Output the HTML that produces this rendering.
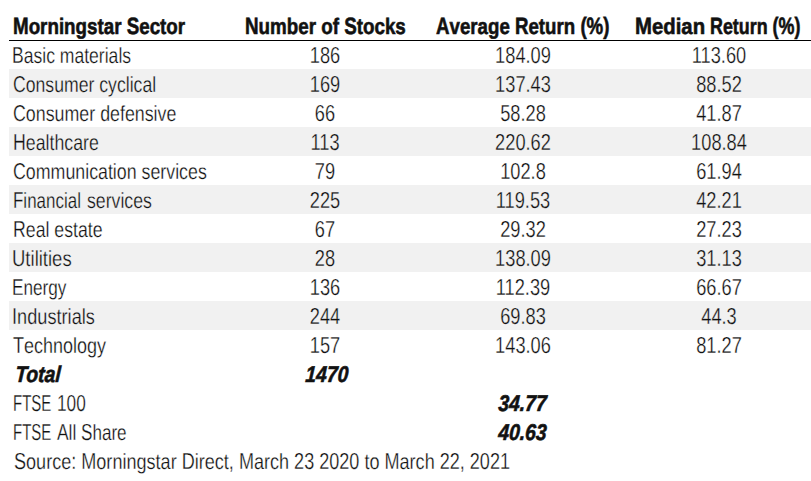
<!DOCTYPE html>
<html><head><meta charset="utf-8"><style>
html,body{margin:0;padding:0;background:#fff;}
body{width:811px;height:481px;position:relative;overflow:hidden;text-rendering:geometricPrecision;}
.t{position:absolute;white-space:nowrap;font-family:"Liberation Sans",sans-serif;line-height:30px;color:#111;transform-origin:0 0;}
.n{position:absolute;width:120px;text-align:center;white-space:nowrap;font-family:"Liberation Sans",sans-serif;font-size:23.1px;line-height:30px;color:#111;transform:scaleX(0.79);transform-origin:60px 0;-webkit-text-stroke:0.3px #fff;}
.n.g{-webkit-text-stroke:0.3px #f1f1f1;}
.lc{display:inline-block;white-space:pre;}
.band{position:absolute;left:9px;width:802px;height:29px;background:#f1f1f1;}
.rule{position:absolute;left:9px;width:802px;top:40px;height:1px;background:#000;}
</style></head><body>
<div class="band" style="top:69px"></div><div class="band" style="top:127px"></div><div class="band" style="top:185px"></div><div class="band" style="top:243px"></div><div class="band" style="top:301px"></div>
<div class="rule"></div>
<div class="t" style="left:12.80px;top:12.00px;font-size:23.6px;font-weight:700;font-style:normal;transform:scaleX(0.7958);transform-origin:0 22px;-webkit-text-stroke:0.6px #111;">M<span class="lc" style="transform:scaleY(0.95);transform-origin:0 22px">orningstar</span> S<span class="lc" style="transform:scaleY(0.95);transform-origin:0 22px">ector</span></div>
<div class="t" style="left:244.50px;top:12.00px;font-size:23.6px;font-weight:700;font-style:normal;transform:scaleX(0.7965);transform-origin:0 22px;-webkit-text-stroke:0.6px #111;">N<span class="lc" style="transform:scaleY(0.95);transform-origin:0 22px">umber of</span> S<span class="lc" style="transform:scaleY(0.95);transform-origin:0 22px">tocks</span></div>
<div class="t" style="left:436.00px;top:12.00px;font-size:23.6px;font-weight:700;font-style:normal;transform:scaleX(0.7922);transform-origin:0 22px;-webkit-text-stroke:0.6px #111;">A<span class="lc" style="transform:scaleY(0.95);transform-origin:0 22px">verage</span> R<span class="lc" style="transform:scaleY(0.95);transform-origin:0 22px">eturn</span> (%)</div>
<div class="t" style="left:634.74px;top:12.00px;font-size:23.6px;font-weight:700;font-style:normal;transform:scaleX(0.8620);transform-origin:0 22px;-webkit-text-stroke:0.6px #111;">M<span class="lc" style="transform:scaleY(0.95);transform-origin:0 22px">edian</span></div>
<div class="t" style="left:709.54px;top:12.00px;font-size:23.6px;font-weight:700;font-style:normal;transform:scaleX(0.7576);transform-origin:0 22px;-webkit-text-stroke:0.6px #111;">R<span class="lc" style="transform:scaleY(0.95);transform-origin:0 22px">eturn</span> (%)</div>
<div class="t" style="left:12.48px;top:40.00px;font-size:23.1px;font-weight:400;font-style:normal;transform:scaleX(0.7604);transform-origin:0 23px;-webkit-text-stroke:0.3px #fff;">B<span class="lc" style="transform:scaleY(0.95);transform-origin:0 23px">asic materials</span></div>
<div class="t" style="left:13.24px;top:69.00px;font-size:23.1px;font-weight:400;font-style:normal;transform:scaleX(0.7638);transform-origin:0 23px;-webkit-text-stroke:0.3px #f1f1f1;">C<span class="lc" style="transform:scaleY(0.95);transform-origin:0 23px">onsumer cyclical</span></div>
<div class="t" style="left:13.23px;top:98.00px;font-size:23.1px;font-weight:400;font-style:normal;transform:scaleX(0.7714);transform-origin:0 23px;-webkit-text-stroke:0.3px #fff;">C<span class="lc" style="transform:scaleY(0.95);transform-origin:0 23px">onsumer defensive</span></div>
<div class="t" style="left:12.56px;top:127.00px;font-size:23.1px;font-weight:400;font-style:normal;transform:scaleX(0.7679);transform-origin:0 23px;-webkit-text-stroke:0.3px #f1f1f1;">H<span class="lc" style="transform:scaleY(0.95);transform-origin:0 23px">ealthcare</span></div>
<div class="t" style="left:13.23px;top:156.00px;font-size:23.1px;font-weight:400;font-style:normal;transform:scaleX(0.7704);transform-origin:0 23px;-webkit-text-stroke:0.3px #fff;">C<span class="lc" style="transform:scaleY(0.95);transform-origin:0 23px">ommunication services</span></div>
<div class="t" style="left:12.63px;top:185.00px;font-size:23.1px;font-weight:400;font-style:normal;transform:scaleX(0.7348);transform-origin:0 23px;-webkit-text-stroke:0.3px #f1f1f1;">F<span class="lc" style="transform:scaleY(0.95);transform-origin:0 23px">inancial</span></div>
<div class="t" style="left:12.57px;top:214.00px;font-size:23.1px;font-weight:400;font-style:normal;transform:scaleX(0.7667);transform-origin:0 23px;-webkit-text-stroke:0.3px #fff;">R<span class="lc" style="transform:scaleY(0.95);transform-origin:0 23px">eal estate</span></div>
<div class="t" style="left:12.20px;top:243.00px;font-size:23.1px;font-weight:400;font-style:normal;transform:scaleX(0.8014);transform-origin:0 23px;-webkit-text-stroke:0.3px #f1f1f1;">U<span class="lc" style="transform:scaleY(0.95);transform-origin:0 23px">tilities</span></div>
<div class="t" style="left:12.31px;top:272.00px;font-size:23.1px;font-weight:400;font-style:normal;transform:scaleX(0.7437);transform-origin:0 23px;-webkit-text-stroke:0.3px #fff;">E<span class="lc" style="transform:scaleY(0.95);transform-origin:0 23px">nergy</span></div>
<div class="t" style="left:11.63px;top:301.00px;font-size:23.1px;font-weight:400;font-style:normal;transform:scaleX(0.7873);transform-origin:0 23px;-webkit-text-stroke:0.3px #f1f1f1;">I<span class="lc" style="transform:scaleY(0.95);transform-origin:0 23px">ndustrials</span></div>
<div class="t" style="left:12.82px;top:330.00px;font-size:23.1px;font-weight:400;font-style:normal;transform:scaleX(0.7791);transform-origin:0 23px;-webkit-text-stroke:0.3px #fff;">T<span class="lc" style="transform:scaleY(0.95);transform-origin:0 23px">echnology</span></div>
<div class="t" style="left:87.03px;top:185.00px;font-size:23.1px;font-weight:400;font-style:normal;transform:scaleX(0.7663);transform-origin:0 23px;-webkit-text-stroke:0.3px #f1f1f1;"><span class="lc" style="transform:scaleY(0.95);transform-origin:0 23px">services</span></div>
<div class="t" style="left:14.90px;top:359.00px;font-size:22.7px;font-weight:700;font-style:italic;transform:scaleX(0.8509) skewX(-4deg);transform-origin:0 23px;-webkit-text-stroke:0.6px #111;">Total</div>
<div class="t" style="left:304.80px;top:359.00px;font-size:22.7px;font-weight:700;font-style:italic;transform:scaleX(0.8510) skewX(-4deg);transform-origin:0 23px;-webkit-text-stroke:0.6px #111;">1470</div>
<div class="t" style="left:12.80px;top:388.00px;font-size:23.1px;font-weight:400;font-style:normal;transform:scaleX(0.6482);transform-origin:0 23px;-webkit-text-stroke:0.3px #fff;">FTSE</div>
<div class="t" style="left:56.91px;top:388.00px;font-size:23.1px;font-weight:400;font-style:normal;transform:scaleX(0.7472);transform-origin:0 23px;-webkit-text-stroke:0.3px #fff;">100</div>
<div class="t" style="left:498.20px;top:388.00px;font-size:22.7px;font-weight:700;font-style:italic;transform:scaleX(0.8475) skewX(-4deg);transform-origin:0 23px;-webkit-text-stroke:0.6px #111;">34.77</div>
<div class="t" style="left:12.80px;top:417.00px;font-size:23.1px;font-weight:400;font-style:normal;transform:scaleX(0.6482);transform-origin:0 23px;-webkit-text-stroke:0.3px #fff;">FTSE</div>
<div class="t" style="left:56.60px;top:417.00px;font-size:23.1px;font-weight:400;font-style:normal;transform:scaleX(0.7542);transform-origin:0 23px;-webkit-text-stroke:0.3px #fff;">A<span class="lc" style="transform:scaleY(0.95);transform-origin:0 23px">ll</span></div>
<div class="t" style="left:81.46px;top:417.00px;font-size:23.1px;font-weight:400;font-style:normal;transform:scaleX(0.7400);transform-origin:0 23px;-webkit-text-stroke:0.3px #fff;">S<span class="lc" style="transform:scaleY(0.95);transform-origin:0 23px">hare</span></div>
<div class="t" style="left:498.20px;top:417.00px;font-size:22.7px;font-weight:700;font-style:italic;transform:scaleX(0.8517) skewX(-4deg);transform-origin:0 23px;-webkit-text-stroke:0.6px #111;">40.63</div>
<div class="t" style="left:13.62px;top:446.00px;font-size:23.1px;font-weight:400;font-style:normal;transform:scaleX(0.7821);transform-origin:0 23px;-webkit-text-stroke:0.3px #fff;">S<span class="lc" style="transform:scaleY(0.95);transform-origin:0 23px">ource</span>: M<span class="lc" style="transform:scaleY(0.95);transform-origin:0 23px">orningstar</span> D<span class="lc" style="transform:scaleY(0.95);transform-origin:0 23px">irect</span>, M<span class="lc" style="transform:scaleY(0.95);transform-origin:0 23px">arch</span> 23 2020 <span class="lc" style="transform:scaleY(0.95);transform-origin:0 23px">to</span> M<span class="lc" style="transform:scaleY(0.95);transform-origin:0 23px">arch</span> 22, 2021</div>
<div class="n" style="left:265.30px;top:40px">186</div>
<div class="n" style="left:463.00px;top:40px">184.09</div>
<div class="n" style="left:658.70px;top:40px">113.60</div>
<div class="n g" style="left:265.30px;top:69px">169</div>
<div class="n g" style="left:463.00px;top:69px">137.43</div>
<div class="n g" style="left:658.70px;top:69px">88.52</div>
<div class="n" style="left:265.30px;top:98px">66</div>
<div class="n" style="left:463.00px;top:98px">58.28</div>
<div class="n" style="left:658.70px;top:98px">41.87</div>
<div class="n g" style="left:265.30px;top:127px">113</div>
<div class="n g" style="left:463.00px;top:127px">220.62</div>
<div class="n g" style="left:658.70px;top:127px">108.84</div>
<div class="n" style="left:265.30px;top:156px">79</div>
<div class="n" style="left:463.00px;top:156px">102.8</div>
<div class="n" style="left:658.70px;top:156px">61.94</div>
<div class="n g" style="left:265.30px;top:185px">225</div>
<div class="n g" style="left:463.00px;top:185px">119.53</div>
<div class="n g" style="left:658.70px;top:185px">42.21</div>
<div class="n" style="left:265.30px;top:214px">67</div>
<div class="n" style="left:463.00px;top:214px">29.32</div>
<div class="n" style="left:658.70px;top:214px">27.23</div>
<div class="n g" style="left:265.30px;top:243px">28</div>
<div class="n g" style="left:463.00px;top:243px">138.09</div>
<div class="n g" style="left:658.70px;top:243px">31.13</div>
<div class="n" style="left:265.30px;top:272px">136</div>
<div class="n" style="left:463.00px;top:272px">112.39</div>
<div class="n" style="left:658.70px;top:272px">66.67</div>
<div class="n g" style="left:265.30px;top:301px">244</div>
<div class="n g" style="left:463.00px;top:301px">69.83</div>
<div class="n g" style="left:658.70px;top:301px">44.3</div>
<div class="n" style="left:265.30px;top:330px">157</div>
<div class="n" style="left:463.00px;top:330px">143.06</div>
<div class="n" style="left:658.70px;top:330px">81.27</div>
</body></html>
